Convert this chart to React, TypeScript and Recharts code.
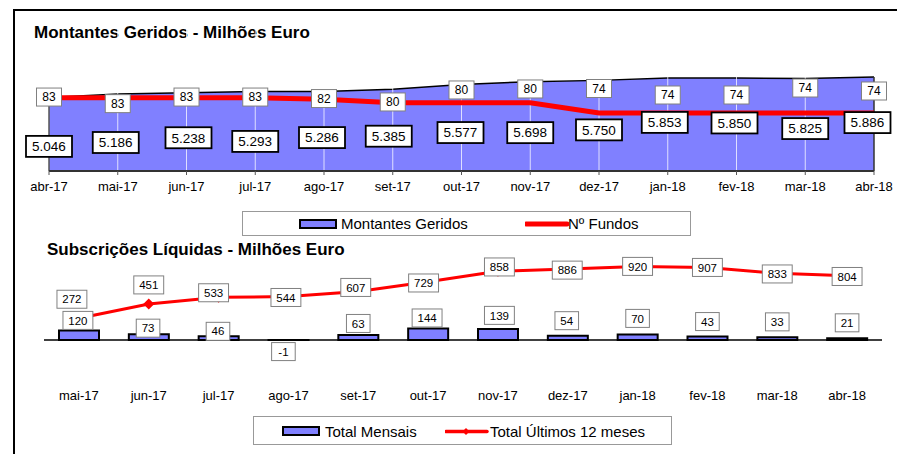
import React from 'react';
import { Area, Bar, ComposedChart, LabelList, Line, ReferenceLine, XAxis, YAxis } from 'recharts';

const FONT = '"Liberation Sans", Arial, Helvetica, sans-serif';
const BLUE = '#8080FF';
const RED = '#FF0000';

// painel de cima: montantes geridos e numero de fundos
const meses1 = ['abr-17', 'mai-17', 'jun-17', 'jul-17', 'ago-17', 'set-17', 'out-17', 'nov-17', 'dez-17', 'jan-18', 'fev-18', 'mar-18', 'abr-18'];
const montantes = [5046, 5186, 5238, 5293, 5286, 5385, 5577, 5698, 5750, 5853, 5850, 5825, 5886];
const fundos = [83, 83, 83, 83, 82, 80, 80, 80, 74, 74, 74, 74, 74];

// painel de baixo: subscricoes liquidas
const meses2 = ['mai-17', 'jun-17', 'jul-17', 'ago-17', 'set-17', 'out-17', 'nov-17', 'dez-17', 'jan-18', 'fev-18', 'mar-18', 'abr-18'];
const mensais = [120, 73, 46, -1, 63, 144, 139, 54, 70, 43, 33, 21];
const ultimos12 = [272, 451, 533, 544, 607, 729, 858, 886, 920, 907, 833, 804];

// etiquetas arrastadas a mao no original: deslocamento em px face ao ponto
const montDx = [0, -2, 2, 0, -2, -4, -1, 0, 0, -3, -2, 0, -6.5];
const montDy = [49, 48.5, 45, 50, 46, 47, 48, 51, 49.5, 44.5, 45, 50, 45.5];
const fundosDy = [-0.6, 6, -0.6, -0.6, -0.8, -0.8, -12.8, -13.8, -24.5, -18, -18, -25, -22];
const totalDx = [-7, 0, -5, -2.5, -2.5, -4.5, 1.5, -0.5, 0, 0, 0, 0];
const totalDy = [-19, -19, -4.6, 1, -4, 1.3, -4.4, 1, 0, 0, 0.6, 0.8];
const mensalDx = [-1, -0.7, -0.6, -5, 0, -1, 1.5, -1, 0, 0, 0, 0];
const mensalDy = [-10, -6, -5, 11.5, -11.5, -10.5, -13.5, -15, -16, -15, -15.5, -15.5];

const topData = meses1.map((mes, i) => ({ mes, montantes: montantes[i], fundos: fundos[i], idx: i }));
const botData = meses2.map((mes, i) => ({ mes, mensais: mensais[i], ultimos12: ultimos12[i], idx: i }));

const pos = (p: any) => {
  const vb = p.viewBox ?? p;
  return { x: Number(vb.x), y: Number(vb.y), i: Number(p.value) };
};

const Box = ({ cx, cy, w, h, text, fs, stroke = '#808080', sw = 1 }: any) => (
  <g>
    <rect x={cx - w / 2} y={cy - h / 2} width={w} height={h} fill="#fff" stroke={stroke} strokeWidth={sw} />
    <text x={cx} y={cy + fs * 0.36} textAnchor="middle" fontSize={fs} fontFamily={FONT} fill="#000">
      {text}
    </text>
  </g>
);

const montLabel = (p: any) => {
  const { x, y, i } = pos(p);
  return <Box cx={x + montDx[i]} cy={y + montDy[i]} w={46} h={21} fs={13.5} stroke="#000" sw={1.8} text={(montantes[i] / 1000).toFixed(3)} />;
};

const fundosLabel = (p: any) => {
  const { x, y, i } = pos(p);
  return <Box cx={x} cy={y + fundosDy[i]} w={25} h={18} fs={12} text={String(fundos[i])} />;
};

const totalLabel = (p: any) => {
  const { x, y, i } = pos(p);
  const t = String(ultimos12[i]);
  return <Box cx={x + totalDx[i]} cy={y + totalDy[i]} w={6.3 * t.length + 11} h={18} fs={11.5} text={t} />;
};

const mensalLabel = (p: any) => {
  const { x, y, i } = pos(p);
  const t = String(mensais[i]);
  return <Box cx={x + mensalDx[i]} cy={y + mensalDy[i]} w={6.3 * t.length + 11} h={18} fs={11.5} text={t} />;
};

const diamond = (p: any) => {
  const { cx, cy, index } = p;
  if (cx == null || cy == null) return <g key={index} />;
  const r = 5.5;
  return <path key={index} d={`M${cx},${cy - r}L${cx + r},${cy}L${cx},${cy + r}L${cx - r},${cy}Z`} fill={RED} />;
};

const tickStyle = { fontSize: 13, fill: '#000', fontFamily: FONT };

const abs = (left: number, top: number, extra: React.CSSProperties = {}): React.CSSProperties => ({
  position: 'absolute',
  left,
  top,
  ...extra,
});

const legendText: React.CSSProperties = { fontFamily: FONT, fontSize: 15, lineHeight: '20px', whiteSpace: 'nowrap', color: '#000' };

export default function App() {
  const last = meses1.length - 1;
  return (
    <div style={{ position: 'absolute', left: 0, top: 0, width: 897, height: 454, background: '#fff', overflow: 'hidden' }}>
      <div style={abs(13, 9, { width: 900, height: 460, borderLeft: '2px solid #000', borderTop: '2px solid #000' })} />

      <div style={abs(34, 23, { fontFamily: FONT, fontSize: 17, fontWeight: 'bold', lineHeight: '20px', whiteSpace: 'nowrap' })}>
        Montantes Geridos - Milhões Euro
      </div>

      <div style={abs(0, 0)}>
        <ComposedChart width={897} height={200} data={topData} margin={{ top: 26, right: 23, bottom: 0, left: 49 }}>
          <XAxis
            dataKey="mes"
            scale="point"
            interval={0}
            height={29}
            tickSize={4}
            tickMargin={7}
            axisLine={{ stroke: '#333', strokeWidth: 2 }}
            tickLine={{ stroke: '#555' }}
            tick={tickStyle}
          />
          <YAxis yAxisId="m" hide domain={[2000, 8000]} />
          <YAxis yAxisId="f" hide orientation="right" domain={[40, 125]} />
          <Area
            yAxisId="m"
            dataKey="montantes"
            type="linear"
            fill={BLUE}
            fillOpacity={1}
            stroke="#000"
            strokeWidth={1.5}
            isAnimationActive={false}
          />
          {meses1.slice(1, last).map((m) => (
            <ReferenceLine key={m} yAxisId="m" x={m} stroke="#fff" strokeOpacity={0.75} />
          ))}
          <ReferenceLine
            yAxisId="m"
            segment={[{ x: meses1[0], y: 2000 }, { x: meses1[0], y: montantes[0] }]}
            stroke="#555"
            strokeWidth={1.5}
          />
          <ReferenceLine
            yAxisId="m"
            segment={[{ x: meses1[last], y: 2000 }, { x: meses1[last], y: montantes[last] }]}
            stroke="#333"
            strokeWidth={1.5}
          />
          <Line yAxisId="f" dataKey="fundos" type="linear" stroke={RED} strokeWidth={5} dot={false} isAnimationActive={false}>
            <LabelList dataKey="idx" content={fundosLabel} />
          </Line>
          <Line yAxisId="m" dataKey="montantes" stroke="none" dot={false} legendType="none" isAnimationActive={false}>
            <LabelList dataKey="idx" content={montLabel} />
          </Line>
        </ComposedChart>
      </div>

      {/* legenda de cima */}
      <div style={abs(242, 211, { width: 447, height: 23, border: '1px solid #999' })} />
      <svg style={abs(299, 219)} width={40} height={12}>
        <rect x={1} y={1} width={36} height={8} fill={BLUE} stroke="#000" strokeWidth={2} />
      </svg>
      <div style={abs(341, 214, legendText)}>Montantes Geridos</div>
      <svg style={abs(525, 219)} width={44} height={10}>
        <line x1={1} y1={5} x2={42} y2={5} stroke={RED} strokeWidth={5} strokeLinecap="round" />
      </svg>
      <div style={abs(568, 214, legendText)}>Nº Fundos</div>

      <div style={abs(47, 240, { fontFamily: FONT, fontSize: 17, fontWeight: 'bold', lineHeight: '20px', whiteSpace: 'nowrap' })}>
        Subscrições Líquidas - Milhões Euro
      </div>

      <div style={abs(0, 0)}>
        <ComposedChart width={897} height={454} data={botData} margin={{ top: 244, right: 15, bottom: 36, left: 44 }} barSize={40}>
          <XAxis dataKey="mes" interval={0} height={30} tickSize={0} tickMargin={3} axisLine={false} tickLine={false} tick={tickStyle} />
          <YAxis hide domain={[-600, 1200]} />
          <Bar dataKey="mensais" fill={BLUE} stroke="#000" strokeWidth={2} isAnimationActive={false} />
          <ReferenceLine y={0} stroke="#000" strokeWidth={1.5} />
          <Line dataKey="ultimos12" type="linear" stroke={RED} strokeWidth={3} dot={diamond} isAnimationActive={false}>
            <LabelList dataKey="idx" content={totalLabel} />
          </Line>
          <Line dataKey="mensais" stroke="none" dot={false} legendType="none" isAnimationActive={false}>
            <LabelList dataKey="idx" content={mensalLabel} />
          </Line>
        </ComposedChart>
      </div>

      {/* legenda de baixo */}
      <div style={abs(253, 416, { width: 417, height: 27, border: '1px solid #999' })} />
      <svg style={abs(282, 426)} width={40} height={12}>
        <rect x={1} y={1} width={36} height={8} fill={BLUE} stroke="#000" strokeWidth={2} />
      </svg>
      <div style={abs(325, 421.5, legendText)}>Total Mensais</div>
      <svg style={abs(445, 425)} width={44} height={13}>
        <line x1={1} y1={6.5} x2={42} y2={6.5} stroke={RED} strokeWidth={3.5} strokeLinecap="round" />
        <path d="M21,3L24.5,6.5L21,10L17.5,6.5Z" fill={RED} />
      </svg>
      <div style={abs(490, 421.5, legendText)}>Total Últimos 12 meses</div>
    </div>
  );
}
